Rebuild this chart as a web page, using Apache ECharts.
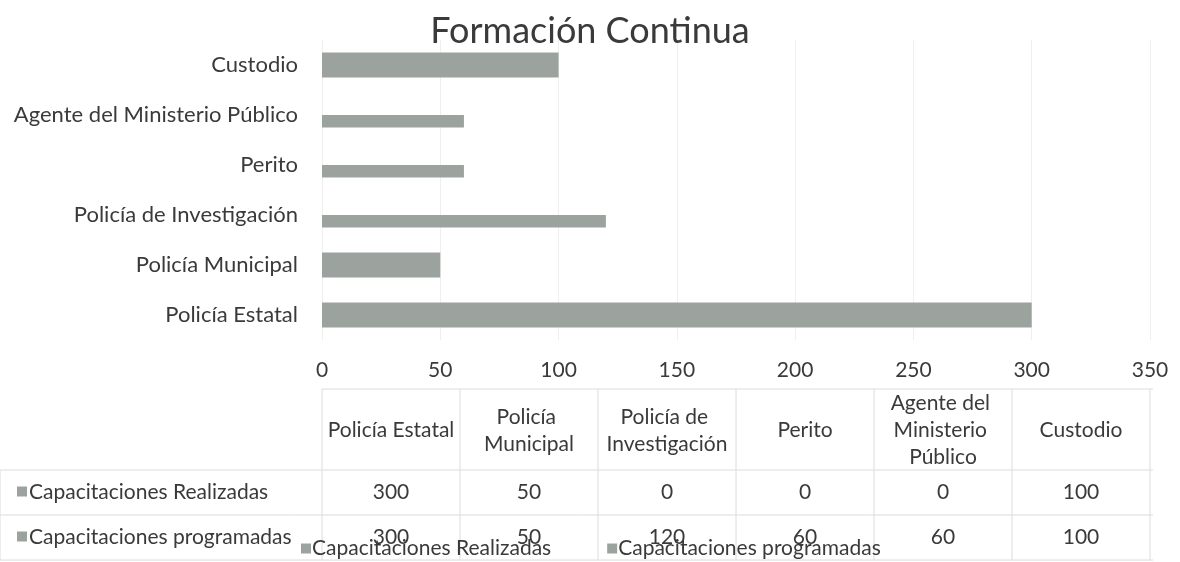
<!DOCTYPE html>
<html><head><meta charset="utf-8">
<script src="https://cdn.jsdelivr.net/npm/echarts@6/dist/echarts.min.js"></script>
<style>html,body{margin:0;padding:0;background:#fff}#c{width:1180px;height:562px}</style>
</head><body><div id="c"></div>
<script>
const categories = ['Policía Estatal','Policía Municipal','Policía de Investigación','Perito','Agente del Ministerio Público','Custodio'];
const seriesNames = ['Capacitaciones Realizadas','Capacitaciones programadas'];
const realizadas = [300, 50, 0, 0, 0, 100];
const programadas = [300, 50, 120, 60, 60, 100];
const xMin = 0, xMax = 350, xStep = 50;

const FONT = 'Lato';
const TXT = '#3a3a3a';
const BAR = '#9ca39f';
const LINE = '#dcdcdc';

const chart = echarts.init(document.getElementById('c'));
chart.setOption({
  animation: false,
  title: { text: 'Formación Continua', left: 'center', top: 8,
    textStyle: { fontFamily: FONT, fontSize: 36, fontWeight: 'normal', color: TXT } },
  grid: { left: 322, right: 30, top: 40, height: 300, containLabel: false },
  legend: {
    bottom: -2, left: 296, itemWidth: 10, itemHeight: 10, itemGap: 56, icon: 'rect',
    textStyle: { fontFamily: FONT, fontSize: 21, color: TXT, padding: [0,0,0,-4] },
    data: seriesNames
  },
  xAxis: { type: 'value', min: xMin, max: xMax, interval: xStep,
    axisLine: { show: false }, axisTick: { show: false },
    axisLabel: { fontFamily: FONT, fontSize: 21, color: TXT, margin: 20 },
    splitLine: { lineStyle: { color: '#efefef' } } },
  yAxis: { type: 'category', data: categories,
    axisLine: { show: false }, axisTick: { show: false },
    axisLabel: { fontFamily: FONT, fontSize: 22, color: TXT, margin: 24 } },
  series: [
    { name: seriesNames[0], type: 'bar', data: realizadas, barWidth: 12.5, barGap: '0%', itemStyle: { color: BAR } },
    { name: seriesNames[1], type: 'bar', data: programadas, barWidth: 12.5, barGap: '0%', itemStyle: { color: BAR } }
  ]
});

// data table under the chart, columns aligned with the value axis extent
const x0 = chart.convertToPixel({ xAxisIndex: 0 }, xMin);
const x1 = chart.convertToPixel({ xAxisIndex: 0 }, xMax);
const colW = (x1 - x0) / categories.length;
const headTop = 389, headBot = 470, rowH = 45;
const g = [];
const line = (ax, ay, bx, by) => g.push({ type: 'line', shape: { x1: ax, y1: ay, x2: bx, y2: by }, style: { stroke: LINE, lineWidth: 1 }, silent: true });
line(x0, headTop, x1 + 3, headTop);
for (let r = 0; r <= 2; r++) line(0, headBot + r * rowH, x1 + 3, headBot + r * rowH);
for (let i = 0; i <= categories.length; i++) {
  const cx = x0 + i * colW;
  line(cx, headTop, cx, headBot + 2 * rowH);
}
line(0, headBot, 0, headBot + 2 * rowH);
categories.forEach((c, i) => {
  const cx = x0 + (i + 0.5) * colW;
  g.push({ type: 'text', x: cx, y: (headTop + headBot) / 2 + 1,
    style: { text: c, width: 148, overflow: 'break', align: 'center', verticalAlign: 'middle',
      fontFamily: FONT, fontSize: 21, lineHeight: 27, fill: TXT } });
});
[realizadas, programadas].forEach((arr, r) => {
  const cy = headBot + r * rowH + rowH / 2;
  g.push({ type: 'rect', shape: { x: 17, y: cy - 6, width: 10, height: 10 }, style: { fill: BAR } });
  g.push({ type: 'text', x: 29, y: cy, style: { text: seriesNames[r], verticalAlign: 'middle', fontFamily: FONT, fontSize: 21, fill: TXT } });
  arr.forEach((v, i) => {
    g.push({ type: 'text', x: x0 + (i + 0.5) * colW, y: cy,
      style: { text: String(v), align: 'center', verticalAlign: 'middle', fontFamily: FONT, fontSize: 21, fill: TXT } });
  });
});
chart.setOption({ graphic: g });
</script></body></html>
